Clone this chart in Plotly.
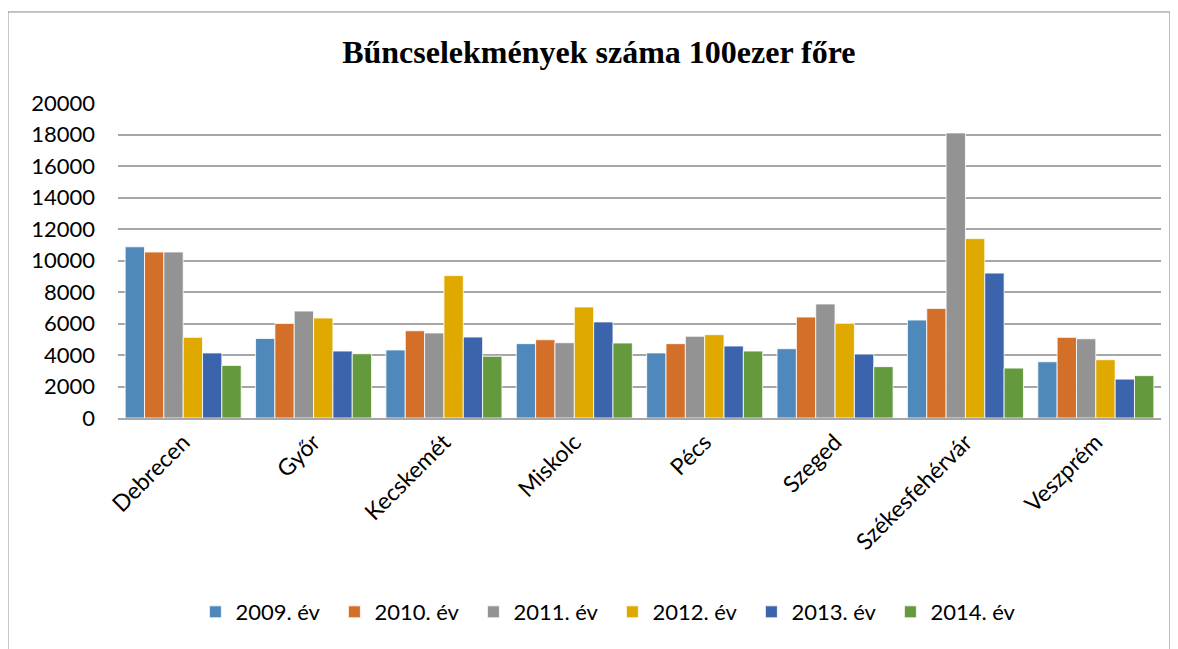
import plotly.graph_objects as go

cities = ["Debrecen", "Győr", "Kecskemét", "Miskolc", "Pécs", "Szeged", "Székesfehérvár", "Veszprém"]
years = ["2009. év", "2010. év", "2011. év", "2012. év", "2013. év", "2014. év"]
v2009 = [10870, 5050, 4320, 4720, 4130, 4400, 6220, 3570]
v2010 = [10540, 6000, 5540, 4970, 4720, 6410, 6960, 5120]
v2011 = [10540, 6790, 5400, 4780, 5190, 7240, 18100, 5030]
v2012 = [5120, 6350, 9040, 7050, 5290, 6010, 11390, 3700]
v2013 = [4130, 4250, 5140, 6100, 4570, 4060, 9200, 2470]
v2014 = [3340, 4080, 3920, 4760, 4250, 3260, 3170, 2690]
series = [v2009, v2010, v2011, v2012, v2013, v2014]
colors = ["#4F89BC", "#D46F2A", "#939393", "#E0A900", "#3C64AD", "#64993E"]

fig = go.Figure()
for name, vals, c in zip(years, series, colors):
    fig.add_trace(go.Bar(x=cities, y=vals, name=name, marker_color=c,
                         marker_line=dict(color="rgba(255,255,255,0.8)", width=1)))

fig.update_layout(
    width=1170, height=641,
    paper_bgcolor="white", plot_bgcolor="white",
    margin=dict(l=110, r=17, t=95, b=231),
    barmode="group", bargap=0.11, bargroupgap=0,
    title=dict(text="<b>Bűncselekmények száma 100ezer főre</b>", x=0.505, xanchor="center",
               y=1 - 44 / 641, yanchor="middle",
               font=dict(family="Liberation Serif", size=32, color="black")),
    font=dict(family="Lato", size=22, color="black"),
    legend=dict(orientation="h", x=0.474, xanchor="center", y=-0.616, yanchor="middle",
                font=dict(family="Lato", size=22, color="black"),
                entrywidth=94, entrywidthmode="pixels",
                traceorder="normal"),
    showlegend=True,
)
fig.update_yaxes(range=[0, 20000], dtick=2000, tickformat="d", showgrid=True, gridcolor="#A6A6A6", gridwidth=1.5,
                 zeroline=False, showline=False, ticks="", ticklabelstandoff=22,
                 tickfont=dict(family="Lato", size=22, color="black"))
fig.update_xaxes(showline=True, linecolor="#A6A6A6", linewidth=1.5, tickangle=-45,
                 tickfont=dict(family="Lato", size=23, color="black"), ticks="")
fig.add_shape(type="rect", xref="paper", yref="paper", x0=-0.1055, x1=1.0086, y0=-0.76, y1=1.289,
              line=dict(color="#888888", width=1), fillcolor="rgba(0,0,0,0)", layer="below")
fig.write_html("out.html")
